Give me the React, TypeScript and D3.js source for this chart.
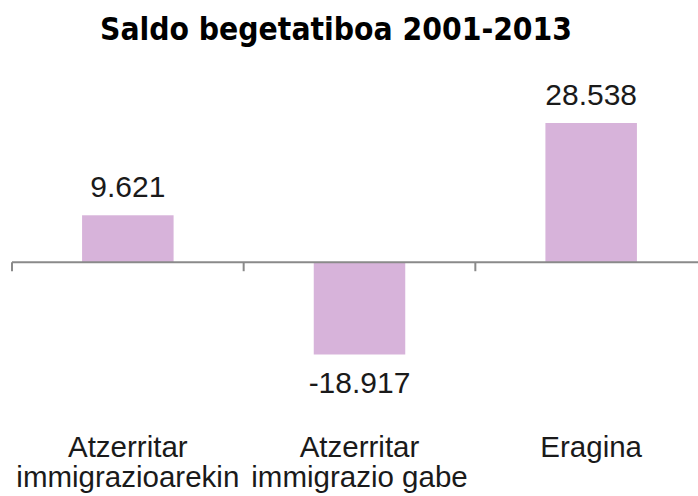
import React from 'react';
import * as d3 from 'd3';

const categories = [
  ['Atzerritar', 'immigrazioarekin'],
  ['Atzerritar', 'immigrazio gabe'],
  ['Eragina']
];
const values = [9621, -18917, 28538];
const valueLabels = ['9.621', '-18.917', '28.538'];
const title = 'Saldo begetatiboa 2001-2013';

const titleFont = '"DejaVu Sans Condensed", "DejaVu Sans", sans-serif';
const font = '"Liberation Sans", Arial, sans-serif';

export default function App() {
  const width = 698, height = 496;
  const axisY = 263;

  let x = d3.scaleBand<number>()
    .domain(d3.range(categories.length))
    .range([12, 707])
    .paddingInner(0)
    .paddingOuter(0);

  let y = d3.scaleLinear()
    .domain([-18917, 28538])
    .range([axisY + 91.5, axisY - 140]);

  let bw = x.bandwidth() * 0.395;

  return (
    <svg width={width} height={height} style={{ position: 'absolute', left: 0, top: 0 }}>
      <rect width={width} height={height} fill='#fff' />
      <text x={336} y={40} textAnchor='middle' fontFamily={titleFont} fontWeight='bold' fontSize={31.5} fill='#000'>
        {title}
      </text>

      {values.map((v, i) => {
        let cx = x(i)! + x.bandwidth() / 2;
        let top = Math.min(y(v), y(0));
        let h = Math.abs(y(v) - y(0));
        let ly = v >= 0 ? y(v) - 18 : y(v) + 38;
        return (
          <g key={i}>
            <rect x={cx - bw / 2} y={top} width={bw} height={h} fill='#d7b3da' />
            <text x={cx} y={ly} textAnchor='middle' fontFamily={font} fontSize={30} fill='#1a1a1a'>
              {valueLabels[i]}
            </text>
          </g>
        );
      })}

      <line x1={12} x2={698} y1={y(0)} y2={y(0)} stroke='#8a8a8a' strokeWidth={2} />
      {d3.range(categories.length).map(i => (
        <line key={i} x1={x(i)!} x2={x(i)!} y1={y(0)} y2={y(0) + 9} stroke='#8a8a8a' strokeWidth={2} />
      ))}

      {categories.map((lines, i) => {
        let cx = x(i)! + x.bandwidth() / 2;
        return (
          <text key={i} textAnchor='middle' fontFamily={font} fontSize={29.5} fill='#1a1a1a'>
            {lines.map((l, j) => (
              <tspan key={j} x={cx} y={457 + j * 30}>{l}</tspan>
            ))}
          </text>
        );
      })}
    </svg>
  );
}
